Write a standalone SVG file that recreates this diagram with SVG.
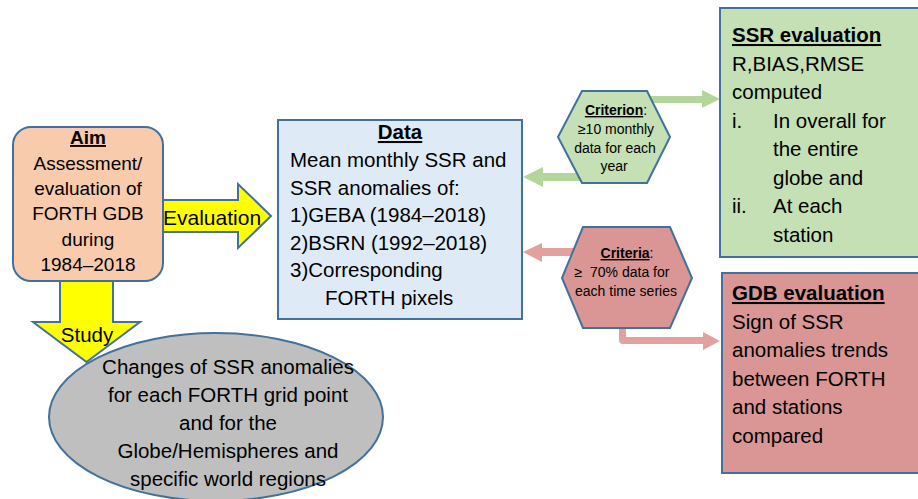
<svg xmlns="http://www.w3.org/2000/svg" width="918" height="499" viewBox="0 0 918 499">
<style>
text{font-family:"Liberation Sans",Arial,sans-serif;fill:#000}
.b{stroke:#41719C;stroke-width:2}
.t19{font-size:19px}
.t20{font-size:20.5px}
.t14{font-size:14px}
.h{font-weight:bold;text-decoration:underline}
.m{text-anchor:middle}
.ya{fill:#FFFF00}
.ga{fill:#B4D69A}
.pa{fill:#E2A09F}
</style>
<rect width="918" height="499" fill="#fff"/>
<g id="connectors">
<g id="arrow-evaluation">
<polygon class="b ya" points="150,200 238,200 238,184 271,216 238,248 238,232 150,232"/>
<text x="163" y="225" style="font-size:21px">Evaluation</text>
</g>
<g id="arrow-study">
<polygon class="b ya" points="60,270 113,270 113,322 140,322 86.5,362 33,322 60,322"/>
<text x="87" y="342" class="m t20">Study</text>
</g>
<polygon class="ga" points="640,96 702,96 702,90 720,99 702,108 702,103 640,103"/>
<polygon class="ga" points="585,173 543,173 543,167 523,177 543,187 543,181 585,181"/>
<polygon class="pa" points="585,248 542,248 542,243 523,252 542,262 542,256 585,256"/>
<path class="pa" d="M619,320 L626,320 L626,337 L703,337 L703,332 L720,341 L703,350 L703,344 L623,344 Q619,344 619,340 Z"/>
</g>
<g id="aim">
<rect class="b" x="13" y="127" width="150" height="154" rx="18" fill="#F8CBAD"/>
<text class="t19 m" x="88"><tspan class="h" x="88" y="144">Aim</tspan><tspan x="88" y="170">Assessment/</tspan><tspan x="88" y="195">evaluation of</tspan><tspan x="88" y="220">FORTH GDB</tspan><tspan x="88" y="246">during</tspan><tspan x="88" y="271">1984–2018</tspan></text>
</g>
<g id="data">
<rect class="b" x="278" y="120" width="244" height="199" fill="#DEEBF7"/>
<text class="t20 h m" x="400" y="139">Data</text>
<text class="t20" x="290"><tspan x="290" y="167">Mean monthly SSR and</tspan><tspan x="290" y="194.5">SSR anomalies of:</tspan><tspan x="290" y="222">1)GEBA (1984–2018)</tspan><tspan x="290" y="249.5">2)BSRN (1992–2018)</tspan><tspan x="290" y="277">3)Corresponding</tspan><tspan x="325" y="304.5">FORTH pixels</tspan></text>
</g>
<g id="criterion">
<polygon class="b" points="558,137 582,91 647,91 670,137 647,183 582,183" fill="#C5E0B4"/>
<text class="m t14" x="616"><tspan x="616" y="115"><tspan class="h">Criterion</tspan>:</tspan><tspan x="616" y="134">≥10 monthly</tspan><tspan x="615" y="152.5">data for each</tspan><tspan x="614" y="171">year</tspan></text>
</g>
<g id="criteria">
<polygon class="b" points="562,278 583,227 670,227 692,278 670,328 583,328" fill="#D99694"/>
<text class="m t14" x="626" style="white-space:pre"><tspan x="627" y="258"><tspan class="h">Criteria</tspan>:</tspan><tspan x="622" y="277">≥  70% data for</tspan><tspan x="626" y="296">each time series</tspan></text>
</g>
<g id="ssr-evaluation">
<rect class="b" x="720" y="8" width="210" height="249" fill="#C5E0B4"/>
<text class="t20"><tspan class="h" x="732" y="42">SSR evaluation</tspan><tspan x="732" y="70.5">R,BIAS,RMSE</tspan><tspan x="732" y="99">computed</tspan><tspan x="732" y="127.5">i.</tspan><tspan x="773" y="127.5">In overall for</tspan><tspan x="773" y="156">the entire</tspan><tspan x="773" y="184.5">globe and</tspan><tspan x="732" y="213">ii.</tspan><tspan x="773" y="213">At each</tspan><tspan x="773" y="241.5">station</tspan></text>
</g>
<g id="gdb-evaluation">
<rect class="b" x="722" y="273" width="210" height="200" fill="#D99694"/>
<text class="t20"><tspan class="h" x="732" y="300">GDB evaluation</tspan><tspan x="732" y="328.5">Sign of SSR</tspan><tspan x="732" y="357">anomalies trends</tspan><tspan x="732" y="385.5">between FORTH</tspan><tspan x="732" y="414">and stations</tspan><tspan x="732" y="442.5">compared</tspan></text>
</g>
<g id="changes">
<ellipse class="b" cx="216" cy="417" rx="167" ry="84" fill="#BFBFBF"/>
<text class="t20 m" x="228"><tspan x="228" y="374">Changes of SSR anomalies</tspan><tspan x="228" y="402">for each FORTH grid point</tspan><tspan x="228" y="430">and for the</tspan><tspan x="228" y="458">Globe/Hemispheres and</tspan><tspan x="228" y="486">specific world regions</tspan></text>
</g>
</svg>
